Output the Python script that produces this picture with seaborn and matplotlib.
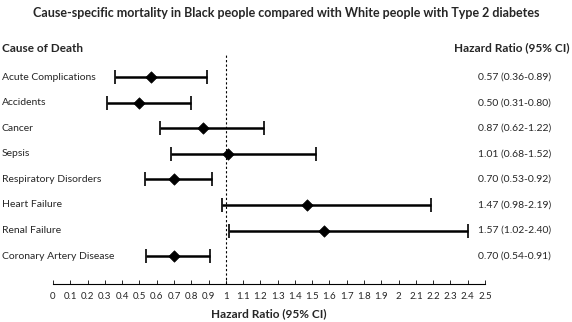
import matplotlib
matplotlib.use("Agg")
import matplotlib.pyplot as plt
import matplotlib.transforms as mtransforms
import numpy as np
import pandas as pd
import seaborn as sns

causes = ["Acute Complications", "Accidents", "Cancer", "Sepsis",
          "Respiratory Disorders", "Heart Failure", "Renal Failure",
          "Coronary Artery Disease"]
hr = [0.57, 0.50, 0.87, 1.01, 0.70, 1.47, 1.57, 0.70]
ci_low = [0.36, 0.31, 0.62, 0.68, 0.53, 0.98, 1.02, 0.54]
ci_high = [0.89, 0.80, 1.22, 1.52, 0.92, 2.19, 2.40, 0.91]
xticks = [round(0.1 * i, 1) for i in range(26)]

df = pd.DataFrame({"cause": causes, "hr": hr, "lo": ci_low, "hi": ci_high})
df["pos"] = np.arange(len(df))

sns.set_style("white")
plt.rcParams["font.family"] = ["Lato", "DejaVu Sans"]

fig = plt.figure(figsize=(5.72, 3.22), dpi=100)
ax = fig.add_axes([53 / 572, 1 - 284 / 322, (485 - 53) / 572, (284 - 55) / 322])

ax.errorbar(df["hr"], df["pos"],
            xerr=[df["hr"] - df["lo"], df["hi"] - df["hr"]],
            fmt="none", ecolor="black", elinewidth=1.8, capsize=5, capthick=1.2)
sns.scatterplot(data=df, x="hr", y="pos", marker="D", color="black", s=34,
                edgecolor="black", zorder=3, ax=ax, legend=False)
ax.axvline(1, color="black", lw=0.8, ls=(0, (2, 2)))

ax.set_xlim(0, 2.5)
ax.set_ylim(8.09, -0.86)
ax.set_xticks(xticks)
ax.set_xticklabels([f"{t:g}" for t in xticks], fontsize=7)
ax.set_yticks([])
ax.set_ylabel("")
ax.set_xlabel("Hazard Ratio (95% CI)", fontsize=8.5, fontweight="bold", labelpad=5)
for s in ["top", "left", "right"]:
    ax.spines[s].set_visible(False)
ax.spines["bottom"].set_color("black")
ax.spines["bottom"].set_linewidth(0.8)
ax.tick_params(axis="x", direction="in", length=3, width=0.7, pad=6, bottom=True)

trans = mtransforms.blended_transform_factory(fig.transFigure, ax.transData)
for i, row in df.iterrows():
    ax.text(2 / 572, row["pos"], row["cause"], transform=trans,
            ha="left", va="center", fontsize=7.5)
    ax.text(478 / 572, row["pos"], f"{row['hr']:.2f} ({row['lo']:.2f}-{row['hi']:.2f})",
            transform=trans, ha="left", va="center", fontsize=7.5)

fig.text(0.5, 1 - 13 / 322, "Cause-specific mortality in Black people compared with White people with Type 2 diabetes",
         ha="center", va="center", fontsize=9, fontweight="bold")
fig.text(2 / 572, 1 - 48 / 322, "Cause of Death", ha="left", va="center",
         fontsize=8.5, fontweight="bold")
fig.text(570 / 572, 1 - 48 / 322, "Hazard Ratio (95% CI)", ha="right", va="center",
         fontsize=8.5, fontweight="bold")

fig.savefig("out.png", dpi=100, facecolor="white")
